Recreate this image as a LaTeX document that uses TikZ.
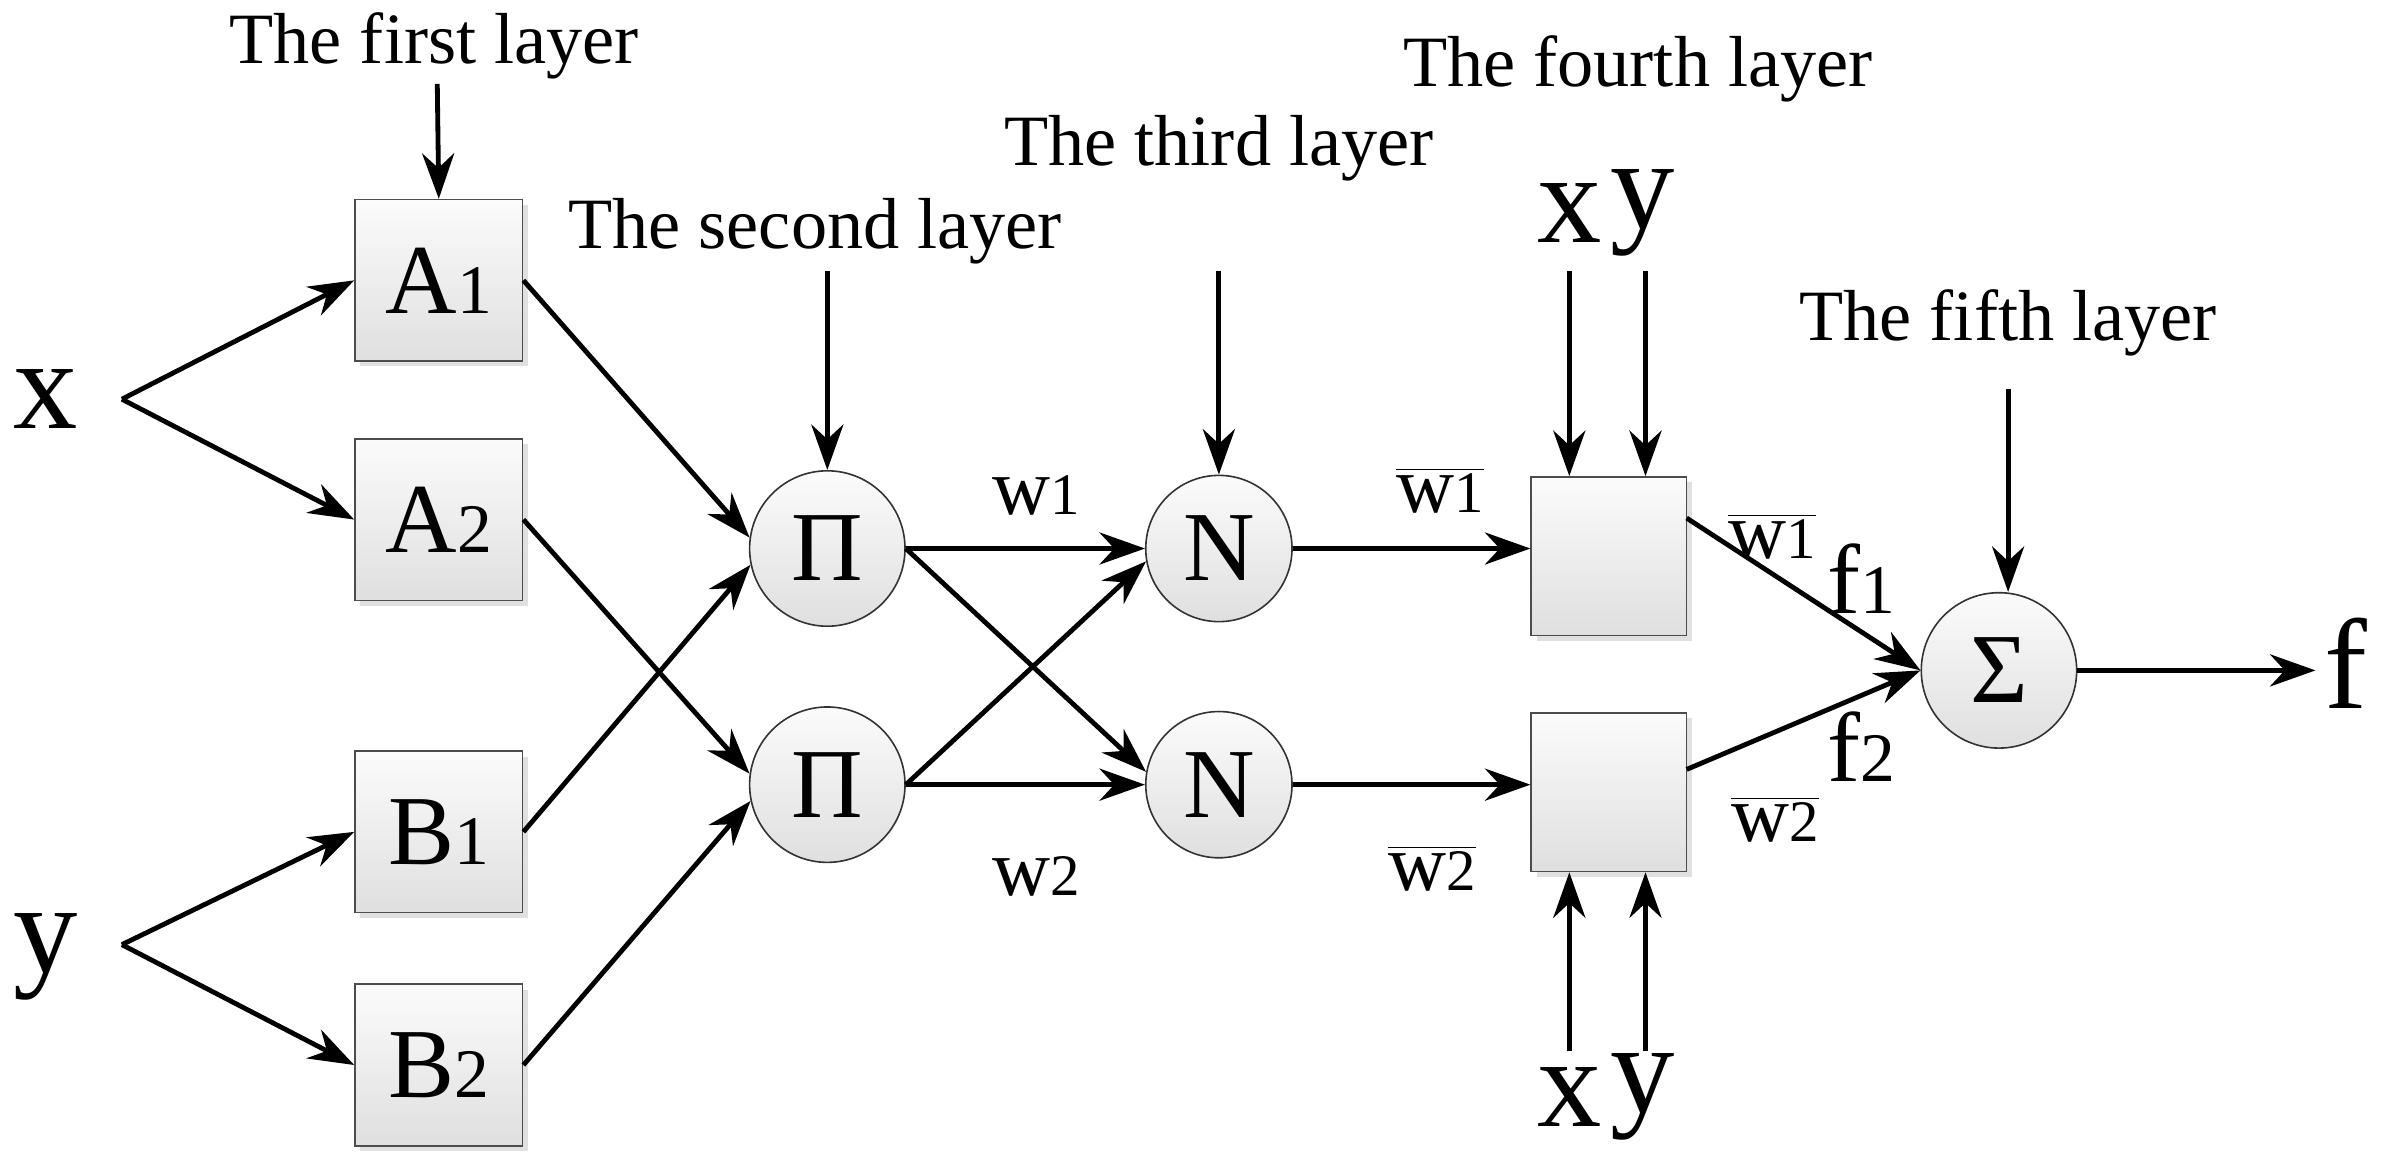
\documentclass[tikz,border=0pt]{standalone}
\usepackage{fontspec}
\setmainfont{Liberation Serif}
\usetikzlibrary{arrows.meta,shadows}
\begin{document}
\begin{tikzpicture}[x=0.02cm,y=-0.02cm,
  ar/.style={line width=1.8pt,-{Stealth[length=17pt,width=12pt]}},
  box/.style={draw=black!70,line width=0.6pt,top color=gray!3,bottom color=gray!25,minimum width=110*0.02cm,minimum height=106*0.02cm,inner sep=0pt,drop shadow={shadow xshift=2pt,shadow yshift=-2pt,fill=gray!40,opacity=0.6}},
  cir/.style={circle,draw=black!80,line width=0.6pt,top color=gray!3,bottom color=gray!25,minimum size=102*0.02cm,inner sep=0pt},
  lay/.style={font=\fontsize{27}{30}\selectfont},
  big/.style={font=\fontsize{48}{52}\selectfont},
  mid/.style={font=\fontsize{37}{40}\selectfont},
  wl/.style={font=\fontsize{30}{33}\selectfont}]
\newcommand{\sbs}[1]{{\fontsize{26}{28}\selectfont #1}}
\newcommand{\sbw}[1]{{\fontsize{22}{24}\selectfont #1}}
\useasboundingbox (0,0) rectangle (1568,765);
% layer 1
\node[box,mid] (A1) at (288,184) {A\sbs{1}};
\node[box,mid] (A2) at (288,341) {A\sbs{2}};
\node[box,mid] (B1) at (288,546) {B\sbs{1}};
\node[box,mid] (B2) at (288,699) {B\sbs{2}};
\node[big] (x) at (30,262) {x};
\node[big] (y) at (30,628) {y};
\coordinate (fx) at (80,262);
\coordinate (fy) at (80,620);
\draw[ar] (fx) -- (A1.west);
\draw[ar] (fx) -- (A2.west);
\draw[ar] (fy) -- (B1.west);
\draw[ar] (fy) -- (B2.west);
\node[lay] (L1) at (285,30) {The first layer};
\draw[ar] (287,55) -- (A1.north);
% layer 2
\node[cir,mid] (P1) at (543,360) {Π};
\node[cir,mid] (P2) at (543,515) {Π};
\node[lay] (L2) at (535,152) {The second layer};
\coordinate (t2) at (543,178);
\draw[ar] (t2) -- (P1.north);
\draw[ar] (A1.east) -- (P1.172);
\draw[ar] (B1.east) -- (P1.192);
\draw[ar] (A2.east) -- (P2.172);
\draw[ar] (B2.east) -- (P2.192);
% layer 3
\node[cir,mid,minimum size=96*0.02cm] (N1) at (800,360) {N};
\node[cir,mid,minimum size=96*0.02cm] (N2) at (800,515) {N};
\node[lay] (L3) at (800,97) {The third layer};
\coordinate (t3) at (800,178);
\draw[ar] (t3) -- (N1.north);
\draw[ar] (P1.east) -- (N1.west);
\draw[ar] (P1.east) -- (N2.170);
\draw[ar] (P2.east) -- (N1.190);
\draw[ar] (P2.east) -- (N2.west);
\node[wl] (w1) at (680,325) {w\sbw{1}};
\node[wl] (w2) at (680,575) {w\sbw{2}};
% layer 4
\node[box,minimum width=102*0.02cm,minimum height=104*0.02cm] (C1) at (1056,365) {};
\node[box,minimum width=102*0.02cm,minimum height=104*0.02cm] (C2) at (1056,520) {};
\draw[ar] (N1.east) -- (N1.east -| C1.west);
\draw[ar] (N2.east) -- (N2.east -| C2.west);
\node[wl] (wb1) at (945,322) {$\overline{\mbox{w\sbw{1}}}$};
\node[wl] (wb2) at (940,570) {$\overline{\mbox{w\sbw{2}}}$};
\node[lay] (L4) at (1075,45) {The fourth layer};
\node[big] (xt) at (1030,140) {x};
\node[big] (yt) at (1078,140) {y};
\node[big] (xb) at (1030,720) {x};
\node[big] (yb) at (1078,720) {y};
\coordinate (a1) at (1030,178); \coordinate (a2) at (1080,178);
\coordinate (b1) at (1030,690); \coordinate (b2) at (1080,690);
\draw[ar] (a1) -- (a1|-C1.north);
\draw[ar] (a2) -- (a2|-C1.north);
\draw[ar] (b1) -- (b1|-C2.south);
\draw[ar] (b2) -- (b2|-C2.south);
% layer 5
\node[cir,mid] (S) at (1312,440) {Σ};
\node[lay] (L5) at (1318,212) {The fifth layer};
\coordinate (t5) at (1318,255);
\draw[ar] (t5) -- (t5|-S.north);
\coordinate (c1) at (1107,340);
\coordinate (c2) at (1107,505);
\draw[ar] (c1) -- (S.west);
\draw[ar] (c2) -- (S.west);
\node[wl] (wr1) at (1163,352) {$\overline{\mbox{w\sbw{1}}}$};
\node[wl] (wr2) at (1165,538) {$\overline{\mbox{w\sbw{2}}}$};
\node[mid] (f1) at (1222,380) {f\sbs{1}};
\node[mid] (f2) at (1222,490) {f\sbs{2}};
\node[big] (f) at (1540,435) {f};
\draw[ar] (S.east) -- (S.east -| f.west);
\end{tikzpicture}
\end{document}
